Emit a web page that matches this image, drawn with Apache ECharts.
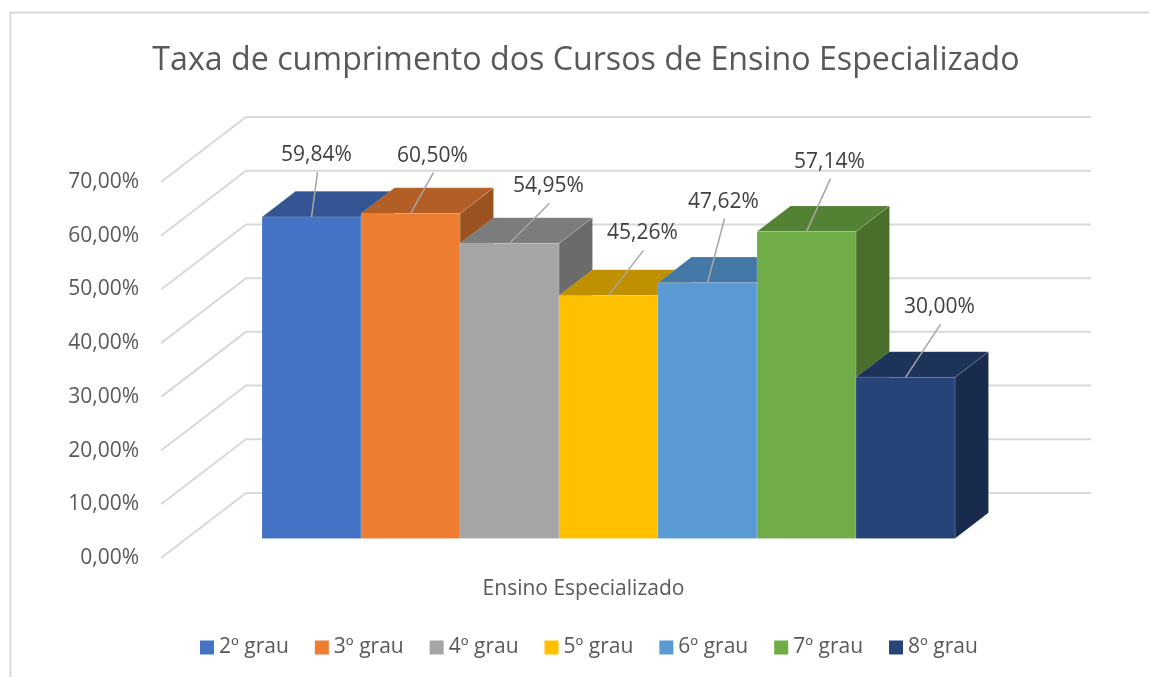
<!DOCTYPE html>
<html><head><meta charset="utf-8">
<style>html,body{margin:0;padding:0;background:#fff}#c{width:1149px;height:677px}</style>
<script src="https://cdn.jsdelivr.net/npm/echarts@6/dist/echarts.min.js"></script>
</head><body><div id="c"></div>
<script>
const chartTitle = 'Taxa de cumprimento dos Cursos de Ensino Especializado';
const categoryLabels = ['Ensino Especializado'];
const seriesNames = ['2º grau','3º grau','4º grau','5º grau','6º grau','7º grau','8º grau'];
const seriesValues = [59.84,60.50,54.95,45.26,47.62,57.14,30.00];
const gridValues = [0,10,20,30,40,50,60,70];

// styling, kept apart from the data
const frontColors = ['#4472c4','#ed7d31','#a5a5a5','#ffc000','#5b9bd5','#70ad47','#264478'];
const topColors   = ['#335593','#b25e25','#7c7c7c','#bf9000','#4478a6','#548235','#1c335a'];
const sideColors  = ['#2c4a80','#9a5220','#6b6b6b','#a67d00','#3b6890','#4a6e2b','#182b4c'];
const leaderEnds  = [[6,-45],[23,-41],[40,-40],[35,-45],[17,-64],[24,-53],[35,-53]];
const wallDx = 85, wallDy = -65;      // floor depth of the 3-D box
const barShiftX = 25, barShiftY = -19.5; // bar front plane within the box
const barDx = 33.5, barDy = -25.7;    // bar depth
const barWidthShare = 99 / 845;
const FONT = '"Open Sans","Noto Sans",sans-serif';
const TEXT_SIZE = 21;

function fmt(v){ return v.toFixed(2).replace('.', ',') + '%'; }

function barFront(api, i, v){
  const w = api.size([1,0])[0] * barWidthShare;
  const base = api.coord([0,0]), top = api.coord([0,v]);
  const x0 = base[0] + barShiftX + (i - 3.5) * w;
  return {w, x0, x1:x0+w, y0:base[1]+barShiftY, y1:top[1]+barShiftY};
}

const wallSeries = {
  type:'custom', name:'grade', silent:true, z:1, clip:false,
  data: gridValues.map(v => [0,v]),
  encode:{x:0,y:1},
  renderItem(params, api){
    const p = api.coord([0, api.value(1)]);
    const grid = params.coordSys;
    return {type:'polyline', shape:{points:[
      [p[0]-grid.width/2, p[1]],
      [p[0]-grid.width/2+wallDx, p[1]+wallDy],
      [p[0]+grid.width/2+wallDx, p[1]+wallDy]
    ]}, style:{stroke:'#d9d9d9', lineWidth:2, fill:null}};
  }
};

const barSeries = seriesNames.map((name,i) => ({
  type:'custom', name, z:2+i, clip:false, silent:true,
  itemStyle:{color:frontColors[i]},
  data:[[0,seriesValues[i]]],
  encode:{x:0,y:1},
  renderItem(params, api){
    const b = barFront(api, i, api.value(1));
    const edge = {stroke:'rgba(255,255,255,0.15)', lineWidth:1};
    return {type:'group', children:[
      {type:'polygon', shape:{points:[[b.x1,b.y1],[b.x1+barDx,b.y1+barDy],[b.x1+barDx,b.y0+barDy],[b.x1,b.y0]]}, style:{fill:sideColors[i], ...edge}},
      {type:'polygon', shape:{points:[[b.x0,b.y1],[b.x0+barDx,b.y1+barDy],[b.x1+barDx,b.y1+barDy],[b.x1,b.y1]]}, style:{fill:topColors[i], ...edge}},
      {type:'rect', shape:{x:b.x0,y:b.y1,width:b.w,height:b.y0-b.y1}, style:{fill:frontColors[i], ...edge}}
    ]};
  }
}));

const labelSeries = {
  type:'custom', name:'rotulos', z:20, clip:false, silent:true,
  data: seriesValues.map(v => [0,v]),
  encode:{x:0,y:1},
  renderItem(params, api){
    const i = params.dataIndex, v = api.value(1);
    const b = barFront(api, i, v);
    const sx = b.x0 + b.w/2, sy = b.y1;
    const ex = sx + leaderEnds[i][0], ey = sy + leaderEnds[i][1];
    return {type:'group', children:[
      {type:'line', shape:{x1:sx,y1:sy,x2:ex,y2:ey}, style:{stroke:'#a6a6a6', lineWidth:1.5}},
      {type:'text', style:{text:fmt(v), x:ex-1, y:ey-17, fill:'#404040', font:TEXT_SIZE+'px '+FONT, align:'center', verticalAlign:'middle'}}
    ]};
  }
};

const chart = echarts.init(document.getElementById('c'), null, {renderer:'canvas'});
chart.setOption({
  animation:false,
  backgroundColor:'#fff',
  title:{text:chartTitle, left:581, top:40, textAlign:'center',
    textStyle:{fontFamily:FONT, fontSize:32.2, fontWeight:'normal', color:'#595959'}},
  grid:{left:161, top:182, width:845, height:376, containLabel:false},
  xAxis:{type:'category', data:categoryLabels, axisLine:{show:false}, axisTick:{show:false}, splitLine:{show:false},
    axisLabel:{margin:20.5, fontFamily:FONT, fontSize:TEXT_SIZE, color:'#595959'}},
  yAxis:{type:'value', min:0, max:70, interval:10, axisLine:{show:false}, axisTick:{show:false}, splitLine:{show:false},
    axisLabel:{margin:22, fontFamily:FONT, fontSize:TEXT_SIZE, color:'#595959', formatter:fmt}},
  legend:{data:seriesNames, left:195, top:632, itemWidth:14, itemHeight:14, itemGap:26, icon:'rect',
    selectedMode:false, textStyle:{fontFamily:FONT, fontSize:TEXT_SIZE, color:'#595959', padding:[0,0,0,0]}},
  graphic:[
    {type:'polyline', silent:true, shape:{points:[[10.5,677],[10.5,12.5],[1149,12.5]]}, style:{stroke:'#d9d9d9', lineWidth:2, fill:null}}
  ],
  series:[wallSeries, ...barSeries, labelSeries]
});
</script></body></html>
